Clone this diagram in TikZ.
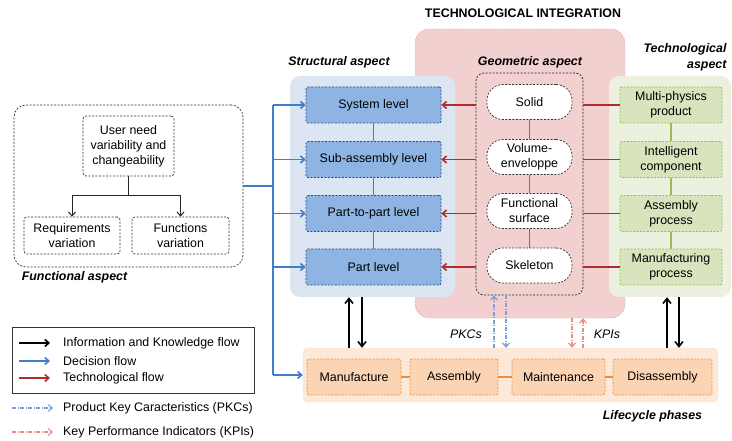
\documentclass[tikz,border=0pt]{standalone}
\usepackage{fontspec}
\setmainfont{Liberation Sans}
\usetikzlibrary{arrows.meta}
\definecolor{bluereg}{RGB}{220,230,242}
\definecolor{bluebox}{RGB}{141,180,226}
\definecolor{bluebd}{RGB}{50,70,110}
\definecolor{pinkreg}{RGB}{242,208,208}
\definecolor{pinkbd}{RGB}{228,160,160}
\definecolor{greenreg}{RGB}{235,241,222}
\definecolor{greenbox}{RGB}{215,228,189}
\definecolor{greenbd}{RGB}{155,187,89}
\definecolor{orangereg}{RGB}{253,233,217}
\definecolor{orangeregbd}{RGB}{248,205,175}
\definecolor{orangebox}{RGB}{251,212,180}
\definecolor{orangebd}{RGB}{240,140,60}
\definecolor{decblue}{RGB}{65,125,200}
\definecolor{techred}{RGB}{175,45,45}
\definecolor{pkcblue}{RGB}{120,160,220}
\definecolor{kpipink}{RGB}{235,140,140}
\tikzset{
  dsh/.style={dash pattern=on 2pt off 1.5pt},
  dshdot/.style={dash pattern=on 4pt off 1.5pt on 1pt off 1.5pt},
  region/.style={rounded corners=10pt, inner sep=0pt},
  bbox/.style={draw=bluebd, fill=bluebox, dsh, minimum width=135pt, minimum height=36pt, rounded corners=2pt, line width=0.7pt},
  gbox/.style={draw=greenbd, fill=greenbox, dsh, minimum width=102pt, minimum height=36pt, align=center, rounded corners=2pt, line width=0.7pt, inner sep=1pt},
  obox/.style={draw=orangebd, fill=orangebox, dsh, minimum height=36pt, rounded corners=2pt, line width=0.7pt},
  geo/.style={draw=black!80, fill=white, dsh, minimum width=85pt, minimum height=35pt, rounded corners=16pt, align=center, inner sep=1pt, line width=0.7pt},
  fbox/.style={draw=black!80, dsh, align=center, rounded corners=3pt, inner sep=0pt, line width=0.7pt},
  lbl/.style={font=\fontsize{12.4}{15}\selectfont\bfseries\itshape},
  tip/.style={-{Straight Barb[length=4pt,width=7pt]}},
  bigtip/.style={-{Straight Barb[length=5pt,width=8pt]}, line width=1.6pt},
  decline/.style={draw=decblue, line width=1.6pt},
  decflow/.style={tip, decline},
  techflow/.style={draw=techred, line width=1.6pt},
  pkc/.style={tip, draw=pkcblue, dshdot, line width=1.1pt},
  kpi/.style={tip, draw=kpipink, dshdot, line width=1.1pt},
}
\begin{document}
\begin{tikzpicture}[x=1pt, y=-1pt, font=\fontsize{12.4}{15}\selectfont]
\useasboundingbox (0,0) rectangle (732,441);

% title
\node[font=\fontsize{12.4}{15}\selectfont\bfseries] (title) at (523,13) {TECHNOLOGICAL INTEGRATION};

% regions
\node[region, draw=pinkbd, fill=pinkreg, dsh, minimum width=210pt, minimum height=289pt, rounded corners=14pt] (pinkr) at (520,173.5) {};
\node[region, fill=bluereg, minimum width=165pt, minimum height=221pt] (blur) at (372.5,186.5) {};
\node[region, fill=greenreg, minimum width=122pt, minimum height=221pt] (grnr) at (670,186.5) {};
\node[region, draw=orangeregbd, fill=orangereg, dsh, minimum width=415pt, minimum height=54pt, rounded corners=5pt] (orr) at (510.5,375) {};
\node[region, draw=black!85, dsh, minimum width=107pt, minimum height=222pt, line width=0.7pt, rounded corners=8pt] (geobox) at (529.5,184) {};

% labels
\node[lbl] (lstruct) at (339,62) {Structural aspect};
\node[lbl] (lgeo) at (530,62) {Geometric aspect};
\node[lbl, anchor=east, align=right, font=\fontsize{12.4}{16}\selectfont\bfseries\itshape] (ltech) at (730,57) {Technological\\aspect};
\node[lbl] (lfunc) at (74.5,277) {Functional aspect};
\node[lbl] (llife) at (652.5,416) {Lifecycle phases};

% structural boxes
\node[bbox] (sys) at (373.5,105) {System level};
\node[bbox] (sub) at (373.5,159.5) {Sub-assembly level};
\node[bbox] (ptp) at (373.5,213.5) {Part-to-part level};
\node[bbox] (prt) at (373.5,267) {Part level};
\draw[decline] (sys) -- (sub) (sub) -- (ptp) (ptp) -- (prt);

% geometric nodes
\node[geo] (solid) at (529.5,102) {Solid};
\node[geo] (vol) at (529.5,157) {Volume-\\enveloppe};
\node[geo] (fsurf) at (529.5,211) {Functional\\surface};
\node[geo] (skel) at (529.5,265.5) {Skeleton};
\draw[black!55, line width=1.4pt] (solid) -- (vol) (vol) -- (fsurf) (fsurf) -- (skel);

% technological boxes
\node[gbox] (mph) at (671,105) {Multi-physics\\product};
\node[gbox] (icomp) at (671,159.5) {Intelligent\\component};
\node[gbox] (aproc) at (671,213.5) {Assembly\\process};
\node[gbox] (mproc) at (671,267) {Manufacturing\\process};
\draw[greenbd, line width=1.4pt] (mph) -- (icomp) (icomp) -- (aproc) (aproc) -- (mproc);

% technological flow
\foreach \b in {sys,sub,ptp,prt}{
  \draw[techflow, tip] (geobox.west |- \b.east) -- (\b.east);
}
\foreach \g in {mph,icomp,aproc,mproc}{
  \draw[techflow] (\g.west) -- (geobox.east |- \g.west);
}

% lifecycle
\node[obox, minimum width=94pt] (manu) at (354,377) {Manufacture};
\node[obox, minimum width=88pt] (assy) at (454,377) {Assembly};
\node[obox, minimum width=93pt] (maint) at (558.5,377) {Maintenance};
\node[obox, minimum width=99pt] (disa) at (662.5,377) {Disassembly};
\draw[orangebd, line width=1.4pt] (manu) -- (assy) (assy) -- (maint) (maint) -- (disa);

% functional aspect
\node[fbox, minimum width=229pt, minimum height=162pt, rounded corners=12pt] (func) at (128.5,186) {};
\node[fbox, minimum width=91pt, minimum height=60pt, font=\fontsize{12.4}{15}\selectfont] (user) at (128.5,146) {User need\\variability and\\changeability};
\node[fbox, minimum width=96pt, minimum height=37pt] (req) at (72,235.5) {Requirements\\variation};
\node[fbox, minimum width=97pt, minimum height=37pt] (fun) at (180.5,235.5) {Functions\\variation};
\coordinate (fork) at (128.5,196);
\draw[line width=1.6pt, black!85] (user.south) -- (fork);
\draw[tip, black!85, line width=1pt] (fork) -| (req.north);
\draw[tip, black!85, line width=1pt] (fork) -| (fun.north);

% decision flow
\coordinate (bus) at (273,0);
\draw[decline] (func.east) -- (bus |- func.east);
\draw[decline] (bus |- sys.west) -- (bus |- orr.west);
\foreach \b in {sys,sub,ptp,prt}{
  \draw[decflow] (bus |- \b.west) -- (\b.west);
}
\draw[decflow] (bus |- orr.west) -- (orr.west);

% information and knowledge flow
\coordinate (k1) at (349,0);
\coordinate (k2) at (362,0);
\coordinate (k3) at (667,0);
\coordinate (k4) at (679,0);
\draw[bigtip] (k1 |- orr.north) -- (k1 |- blur.south);
\draw[bigtip] (k2 |- blur.south) -- (k2 |- orr.north);
\draw[bigtip] (k3 |- orr.north) -- (k3 |- grnr.south);
\draw[bigtip] (k4 |- grnr.south) -- (k4 |- orr.north);

% PKCs and KPIs
\coordinate (p1) at (494,0);
\coordinate (p2) at (506,0);
\coordinate (q1) at (572,0);
\coordinate (q2) at (583,0);
\draw[pkc] (p1 |- orr.north) -- (p1 |- geobox.south);
\draw[pkc] (p2 |- geobox.south) -- (p2 |- orr.north);
\draw[kpi] (q1 |- pinkr.south) -- (q1 |- orr.north);
\draw[kpi] (q2 |- orr.north) -- (q2 |- pinkr.south);
\node[font=\fontsize{12.4}{15}\selectfont\itshape] (pkclbl) at (466,334) {PKCs};
\node[font=\fontsize{12.4}{15}\selectfont\itshape] (kpilbl) at (607,334) {KPIs};

% legend
\node[draw=black!80, line width=1pt, minimum width=242pt, minimum height=66pt, inner sep=0pt] (legend) at (133,360) {};
\coordinate (la1) at (19,343); \coordinate (lb1) at (50,343);
\coordinate (la2) at (19,361); \coordinate (lb2) at (50,361);
\coordinate (la3) at (19,378); \coordinate (lb3) at (50,378);
\coordinate (la4) at (12,408); \coordinate (lb4) at (53,408);
\coordinate (la5) at (12,432); \coordinate (lb5) at (53,432);
\draw[tip, line width=1.6pt] (la1) -- (lb1);
\draw[decflow] (la2) -- (lb2);
\draw[techflow, tip] (la3) -- (lb3);
\draw[pkc] (la4) -- (lb4);
\draw[kpi] (la5) -- (lb5);
\node[anchor=west, inner sep=0pt] (t1) at (63,343) {Information and Knowledge flow};
\node[anchor=west, inner sep=0pt] (t2) at (63,361) {Decision flow};
\node[anchor=west, inner sep=0pt] (t3) at (63,378) {Technological flow};
\node[anchor=west, inner sep=0pt] (t4) at (63,408) {Product Key Caracteristics (PKCs)};
\node[anchor=west, inner sep=0pt] (t5) at (63,432) {Key Performance Indicators (KPIs)};
\end{tikzpicture}
\end{document}
